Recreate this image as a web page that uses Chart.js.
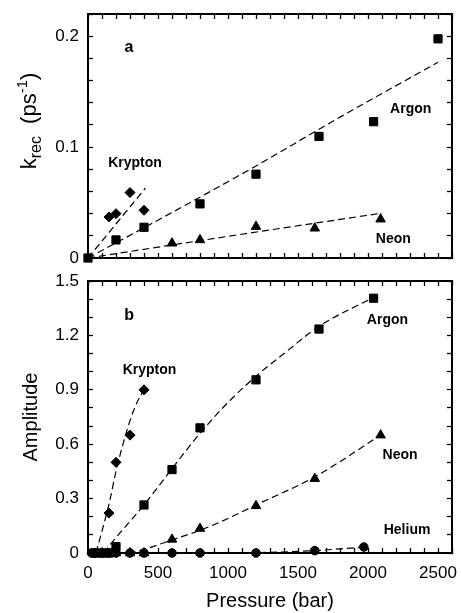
<!DOCTYPE html>
<html>
<head>
<meta charset="utf-8">
<script src="https://cdn.jsdelivr.net/npm/chart.js@4/dist/chart.umd.min.js"></script>
<style>
  html, body { margin: 0; padding: 0; background: #fff; }
  #wrap { position: relative; width: 461px; height: 613px; overflow: hidden; }
  canvas { position: absolute; left: 0; }
  #rateCanvas { top: 0; }
  #ampCanvas { top: 270px; }
</style>
</head>
<body>
<div id="wrap">
  <canvas id="rateCanvas" width="461" height="270"></canvas>
  <canvas id="ampCanvas" width="461" height="343"></canvas>
</div>
<script>
// ---------- tick labels ----------
const pressureTicks = [0, 500, 1000, 1500, 2000, 2500];
const rateTicks = [0, 0.1, 0.2];
const ampTicks = [0, 0.3, 0.6, 0.9, 1.2, 1.5];

// minor tick positions along the box edges
const pressureMinorTicks = [0, 100, 200, 300, 400, 500, 600, 700, 800, 900, 1000, 1100, 1200, 1300,
  1400, 1500, 1600, 1700, 1800, 1900, 2000, 2100, 2200, 2300, 2400, 2500, 2600];
const rateMinorTicks = [0, 0.02, 0.04, 0.06, 0.08, 0.1, 0.12, 0.14, 0.16, 0.18, 0.2, 0.22];
const ampMinorTicks = [0, 0.1, 0.2, 0.3, 0.4, 0.5, 0.6, 0.7, 0.8, 0.9, 1.0, 1.1, 1.2, 1.3, 1.4, 1.5];

// ---------- (a) recombination rate k_rec (ps^-1) vs pressure (bar) ----------
const rateKryptonP = [150, 200, 300, 400];
const rateKryptonK = [0.037, 0.040, 0.059, 0.043];
const rateArgonP = [0, 200, 400, 800, 1200, 1650, 2040, 2500];
const rateArgonK = [0, 0.0163, 0.0277, 0.0488, 0.0756, 0.1096, 0.1229, 0.1976];
const rateNeonP = [600, 800, 1200, 1620, 2090];
const rateNeonK = [0.0133, 0.0163, 0.0283, 0.0268, 0.035];

// dashed trend curves for (a)
const rateFitKryptonP = [0, 410];
const rateFitKryptonK = [0, 0.063];
const rateFitArgonP = [0, 600, 1200, 1800, 2500];
const rateFitArgonK = [0, 0.041, 0.083, 0.127, 0.1765];
const rateFitNeonP = [0, 1050, 2100];
const rateFitNeonK = [0, 0.0205, 0.0405];

// ---------- (b) amplitude vs pressure (bar) ----------
const ampKryptonP = [50, 100, 150, 200, 300, 400];
const ampKryptonA = [0, 0, 0.22, 0.50, 0.65, 0.90];
const ampArgonP = [50, 100, 150, 200, 400, 600, 800, 1200, 1650, 2040];
const ampArgonA = [0, 0, 0, 0.035, 0.265, 0.46, 0.69, 0.955, 1.235, 1.405];
const ampNeonP = [100, 200, 300, 400, 600, 800, 1200, 1620, 2090];
const ampNeonA = [0, 0, 0, 0, 0.075, 0.135, 0.26, 0.41, 0.65];
const ampHeliumP = [25, 50, 100, 150, 200, 300, 400, 600, 800, 1200, 1620, 1970];
const ampHeliumA = [0, 0, 0, 0, 0, 0, 0, 0, 0, 0, 0.013, 0.033];

// dashed trend curves for (b)
const ampFitKryptonP = [57, 150, 200, 250, 300, 350, 400];
const ampFitKryptonA = [0, 0.27, 0.45, 0.60, 0.73, 0.83, 0.90];
const ampFitArgonP = [110, 200, 400, 600, 800, 1000, 1200, 1400, 1650, 2040];
const ampFitArgonA = [0, 0.085, 0.265, 0.465, 0.66, 0.83, 0.975, 1.10, 1.25, 1.41];
const ampFitNeonP = [290, 400, 600, 800, 950, 1200, 1620, 2090];
const ampFitNeonA = [0, 0.02, 0.072, 0.125, 0.173, 0.265, 0.42, 0.65];
const ampFitHeliumP = [200, 800, 1200, 1620, 1970];
const ampFitHeliumA = [0, 0, 0.002, 0.013, 0.033];

// ---------- helpers ----------
const FONT = '"Liberation Sans", Arial, Helvetica, sans-serif';
Chart.defaults.font.family = FONT;
Chart.defaults.color = '#000';

const pts = (xs, ys) => xs.map((x, i) => ({ x, y: ys[i] }));

function markers(xs, ys, style, radius) {
  return {
    data: pts(xs, ys), showLine: false, pointStyle: style, pointRadius: radius, xAxisID: 'x', yAxisID: 'y',
    pointBackgroundColor: '#000', pointBorderColor: '#000', pointBorderWidth: 1, clip: false
  };
}
function curve(xs, ys) {
  return {
    data: pts(xs, ys), showLine: true, pointRadius: 0, borderColor: '#000', borderWidth: 1.2, xAxisID: 'x', yAxisID: 'y',
    borderDash: [7, 4], cubicInterpolationMode: 'monotone', fill: false, clip: false
  };
}

// Text labels placed in data coordinates
function dataLabels(items) {
  return {
    id: 'dataLabels',
    afterDraw(chart) {
      const ctx = chart.ctx, xs = chart.scales.x, ys = chart.scales.y;
      ctx.save();
      ctx.fillStyle = '#000';
      ctx.textAlign = 'center';
      ctx.textBaseline = 'middle';
      for (const it of items) {
        ctx.font = it.font;
        ctx.fillText(it.text, xs.getPixelForValue(it.x), ys.getPixelForValue(it.y));
      }
      ctx.restore();
    }
  };
}

// Rotated y-axis title with subscript / superscript parts
function richYTitle(cx0, cy0, parts) {
  return {
    id: 'richYTitle',
    afterDraw(chart) {
      const ctx = chart.ctx;
      ctx.save();
      ctx.fillStyle = '#000';
      ctx.textBaseline = 'alphabetic';
      ctx.textAlign = 'left';
      let total = 0;
      for (const p of parts) { ctx.font = p.size + 'px ' + FONT; total += ctx.measureText(p.text).width; }
      ctx.translate(cx0, cy0);
      ctx.rotate(-Math.PI / 2);
      let cx = -total / 2;
      for (const p of parts) {
        ctx.font = p.size + 'px ' + FONT;
        ctx.fillText(p.text, cx, p.shift);
        cx += ctx.measureText(p.text).width;
      }
      ctx.restore();
    }
  };
}

// inward tick marks: a negative tick length points them into the plot box
const TICK_IN = -5;
const tickGrid = { display: true, drawOnChartArea: false, drawTicks: true, tickLength: TICK_IN, tickWidth: 1.3, tickColor: '#000' };
const boxBorder = { display: true, width: 2, color: '#000' };

function xScale(showLabels, height) {
  return {
    type: 'linear', position: 'bottom', min: 0, max: 2600,
    afterBuildTicks: s => { s.ticks = pressureMinorTicks.map(v => ({ value: v })); },
    afterFit: s => { s.height = height; s.paddingLeft = 0; s.paddingRight = 0; },
    grid: tickGrid,
    border: boxBorder,
    ticks: {
      display: showLabels, autoSkip: false, maxRotation: 0, padding: 10 - TICK_IN,
      font: { size: 17 }, color: '#000',
      callback: v => (pressureTicks.includes(v) ? String(v) : '')
    },
    title: showLabels
      ? { display: true, text: 'Pressure (bar)', font: { size: 20 }, color: '#000', padding: { top: 0, bottom: 0 } }
      : { display: false }
  };
}
function xTopScale() {
  return {
    type: 'linear', position: 'top', min: 0, max: 2600,
    afterBuildTicks: s => { s.ticks = pressureMinorTicks.map(v => ({ value: v })); },
    afterFit: s => { s.height = 0; s.paddingLeft = 0; s.paddingRight = 0; },
    grid: tickGrid, border: boxBorder,
    ticks: { display: false, autoSkip: false }
  };
}
function yScale(max, minorVals, majorVals, title) {
  return {
    type: 'linear', position: 'left', min: 0, max: max,
    afterBuildTicks: s => { s.ticks = minorVals.map(v => ({ value: v })); },
    afterFit: s => { s.width = 88; s.paddingTop = 0; s.paddingBottom = 0; },
    grid: tickGrid,
    border: boxBorder,
    ticks: {
      autoSkip: false, padding: 9 - TICK_IN, font: { size: 17 }, color: '#000',
      callback: v => (majorVals.some(m => Math.abs(m - v) < 1e-9) ? String(v) : '')
    },
    title: title
      ? { display: true, text: title, font: { size: 20 }, color: '#000', padding: { top: 19, bottom: 0 } }
      : { display: false }
  };
}
function yRightScale(max, minorVals) {
  return {
    type: 'linear', position: 'right', min: 0, max: max,
    afterBuildTicks: s => { s.ticks = minorVals.map(v => ({ value: v })); },
    afterFit: s => { s.width = 0; s.paddingTop = 0; s.paddingBottom = 0; },
    grid: tickGrid, border: boxBorder,
    ticks: { display: false, autoSkip: false }
  };
}

const common = {
  responsive: false, animation: false, devicePixelRatio: 1,
  events: [],
};

// ---------- chart (a) ----------
new Chart(document.getElementById('rateCanvas'), {
  type: 'scatter',
  data: {
    datasets: [
      curve(rateFitKryptonP, rateFitKryptonK),
      curve(rateFitArgonP, rateFitArgonK),
      curve(rateFitNeonP, rateFitNeonK),
      markers(rateKryptonP, rateKryptonK, 'rectRot', 5),
      markers(rateNeonP, rateNeonK, 'triangle', 5.5),
      markers(rateArgonP, rateArgonK, 'rect', 5.8),
    ]
  },
  options: {
    ...common,
    layout: { padding: { left: 0, top: 14, right: 9, bottom: 0 } },
    scales: {
      x: xScale(false, 12),
      y: yScale(0.22, rateMinorTicks, rateTicks, null),
      x2: xTopScale(),
      y2: yRightScale(0.22, rateMinorTicks)
    },
    plugins: { legend: { display: false }, tooltip: { enabled: false } }
  },
  plugins: [
    dataLabels([
      { text: 'a', x: 293, y: 0.19, font: 'bold 16px ' + FONT },
      { text: 'Krypton', x: 336, y: 0.0859, font: 'bold 14px ' + FONT },
      { text: 'Argon', x: 2305, y: 0.1338, font: 'bold 14px ' + FONT },
      { text: 'Neon', x: 2181, y: 0.0172, font: 'bold 14px ' + FONT },
    ]),
    richYTitle(36, 121, [
      { text: 'k', size: 22, shift: 0 },
      { text: 'rec', size: 16, shift: 5 },
      { text: '  (ps', size: 22, shift: 0 },
      { text: '-1', size: 15, shift: -9 },
      { text: ')', size: 22, shift: 0 },
    ])
  ]
});

// ---------- chart (b) ----------
new Chart(document.getElementById('ampCanvas'), {
  type: 'scatter',
  data: {
    datasets: [
      curve(ampFitKryptonP, ampFitKryptonA),
      curve(ampFitArgonP, ampFitArgonA),
      curve(ampFitNeonP, ampFitNeonA),
      curve(ampFitHeliumP, ampFitHeliumA),
      markers(ampHeliumP, ampHeliumA, 'circle', 4.3),
      markers(ampNeonP, ampNeonA, 'triangle', 5.5),
      markers(ampKryptonP, ampKryptonA, 'rectRot', 5),
      markers(ampArgonP, ampArgonA, 'rect', 5.8),
    ]
  },
  options: {
    ...common,
    layout: { padding: { left: 0, top: 11, right: 9, bottom: 0 } },
    scales: {
      x: xScale(true, 60),
      y: yScale(1.5, ampMinorTicks, ampTicks, 'Amplitude'),
      x2: xTopScale(),
      y2: yRightScale(1.5, ampMinorTicks)
    },
    plugins: { legend: { display: false }, tooltip: { enabled: false } }
  },
  plugins: [
    dataLabels([
      { text: 'b', x: 293, y: 1.307, font: 'bold 16px ' + FONT },
      { text: 'Krypton', x: 439, y: 1.011, font: 'bold 14px ' + FONT },
      { text: 'Argon', x: 2139, y: 1.284, font: 'bold 14px ' + FONT },
      { text: 'Neon', x: 2229, y: 0.539, font: 'bold 14px ' + FONT },
      { text: 'Helium', x: 2279, y: 0.128, font: 'bold 14px ' + FONT },
    ])
  ]
});
</script>
</body>
</html>
